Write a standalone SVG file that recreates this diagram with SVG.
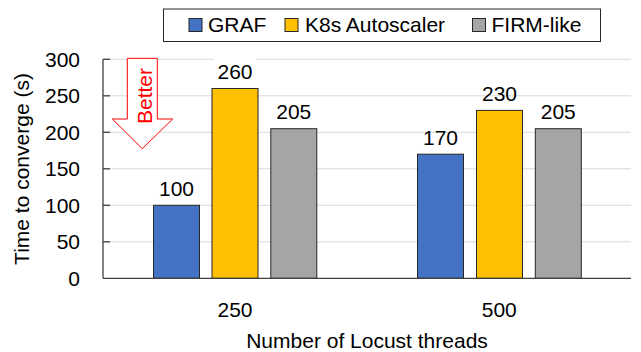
<svg xmlns="http://www.w3.org/2000/svg" width="641" height="352" viewBox="0 0 641 352">
<style>
text{font-family:"Liberation Sans",Arial,sans-serif;font-size:21px;fill:#000}
.grid{stroke:#d9d9d9;stroke-width:1}
.axis{stroke:#404040;stroke-width:1.3;fill:none}
.bar{stroke:#262626;stroke-width:1}
.graf{fill:#4472c4}
.k8s{fill:#ffc000}
.firm{fill:#a5a5a5}
.val{text-anchor:middle}
.tick{text-anchor:end}
</style>
<rect width="641" height="352" fill="#fff"/>
<g id="gridlines">
<line class="grid" x1="103" y1="59.3" x2="631" y2="59.3"/>
<line class="grid" x1="103" y1="95.8" x2="631" y2="95.8"/>
<line class="grid" x1="103" y1="132.3" x2="631" y2="132.3"/>
<line class="grid" x1="103" y1="168.8" x2="631" y2="168.8"/>
<line class="grid" x1="103" y1="205.3" x2="631" y2="205.3"/>
<line class="grid" x1="103" y1="241.8" x2="631" y2="241.8"/>
</g>
<g id="y-axis">
<line class="axis" x1="103" y1="59.3" x2="103" y2="278.3"/>
<line class="axis" x1="103" y1="59.3" x2="110" y2="59.3"/>
<line class="axis" x1="103" y1="95.8" x2="110" y2="95.8"/>
<line class="axis" x1="103" y1="132.3" x2="110" y2="132.3"/>
<line class="axis" x1="103" y1="168.8" x2="110" y2="168.8"/>
<line class="axis" x1="103" y1="205.3" x2="110" y2="205.3"/>
<line class="axis" x1="103" y1="241.8" x2="110" y2="241.8"/>
<text class="tick" x="80" y="66.8">300</text>
<text class="tick" x="80" y="103.3">250</text>
<text class="tick" x="80" y="139.8">200</text>
<text class="tick" x="80" y="176.3">150</text>
<text class="tick" x="80" y="212.8">100</text>
<text class="tick" x="80" y="249.3">50</text>
<text class="tick" x="80" y="285.8">0</text>
<text text-anchor="middle" transform="translate(28.5,169) rotate(-90)">Time to converge (s)</text>
</g>
<g id="bars-250">
<rect class="bar graf" x="153.5" y="205.3" width="46" height="73"/>
<rect class="bar k8s" x="212" y="88.5" width="46" height="189.8"/>
<rect class="bar firm" x="270.8" y="128.7" width="46" height="149.6"/>
<rect x="214" y="57" width="42" height="28" fill="#fff"/>
<text class="val" x="176.5" y="196">100</text>
<text class="val" x="235" y="79">260</text>
<text class="val" x="293.8" y="119">205</text>
</g>
<g id="bars-500">
<rect class="bar graf" x="417.5" y="154.2" width="46" height="124.1"/>
<rect class="bar k8s" x="476.5" y="110.4" width="46" height="167.9"/>
<rect class="bar firm" x="535.3" y="128.7" width="46" height="149.6"/>
<text class="val" x="440.5" y="144.7">170</text>
<text class="val" x="499.5" y="101">230</text>
<text class="val" x="558.3" y="119">205</text>
</g>
<g id="x-axis">
<line class="axis" x1="103" y1="278.3" x2="631" y2="278.3"/>
<text class="val" x="235" y="317">250</text>
<text class="val" x="499.3" y="317">500</text>
<text class="val" x="367" y="348">Number of Locust threads</text>
</g>
<g id="better-arrow">
<polygon points="127.3,58.3 157.3,58.3 157.3,119 172.7,119 142.3,148.7 112.3,119 127.3,119" fill="#fff" stroke="#ff0000" stroke-width="1"/>
<text text-anchor="middle" transform="translate(151.5,96) rotate(-90)" style="fill:#ff0000">Better</text>
</g>
<g id="legend">
<rect x="163.5" y="9" width="437" height="32.5" fill="#fff" stroke="#262626" stroke-width="1"/>
<rect class="bar graf" x="189" y="18.5" width="13" height="13"/>
<text x="208" y="32">GRAF</text>
<rect class="bar k8s" x="285" y="18.5" width="13" height="13"/>
<text x="305" y="32">K8s Autoscaler</text>
<rect class="bar firm" x="472.5" y="18.5" width="13" height="13"/>
<text x="491.5" y="32">FIRM-like</text>
</g>
</svg>
